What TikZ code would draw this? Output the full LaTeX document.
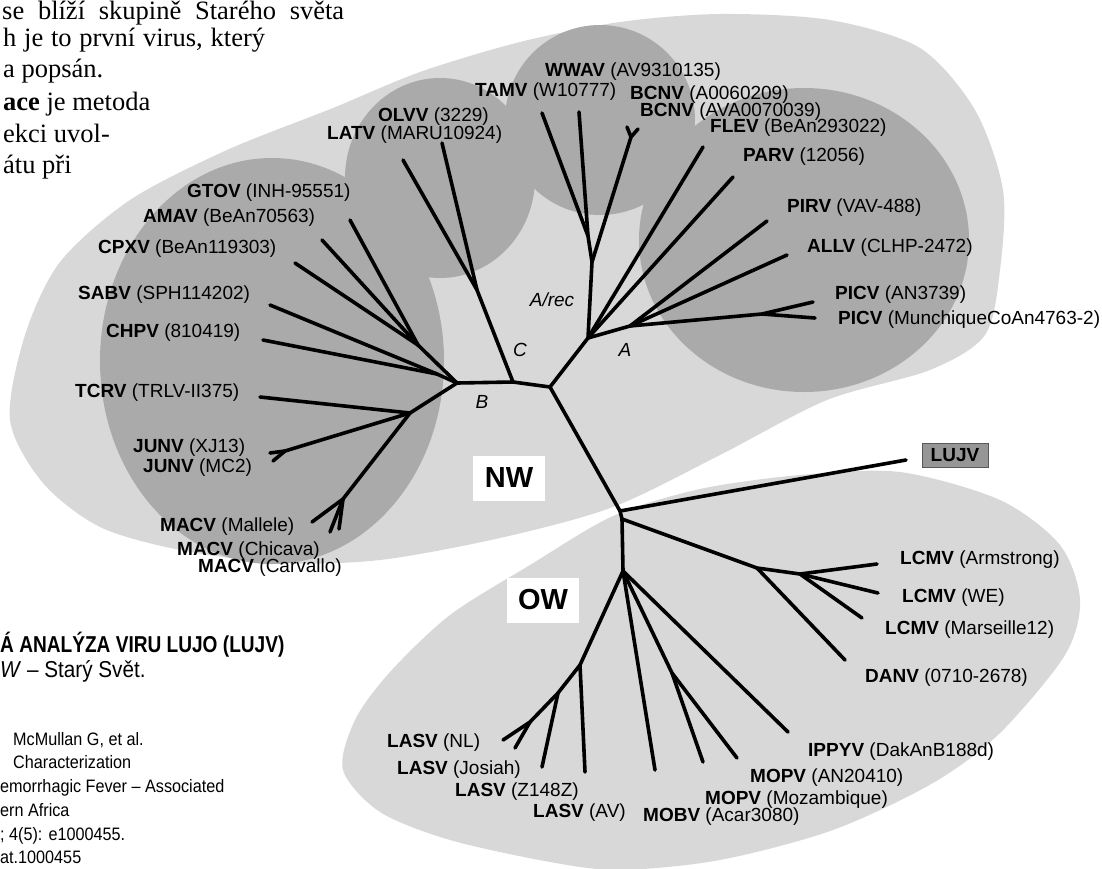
\documentclass[tikz,border=0pt]{standalone}
\usepackage{fontspec}
\setmainfont{Liberation Serif}
\setsansfont{Liberation Sans}
\newfontfamily\narrowsans[FakeStretch=0.9]{Liberation Sans}
\newfontfamily\condsans[FakeStretch=0.83]{Liberation Sans}
\definecolor{shadelight}{RGB}{216,216,216}
\definecolor{shadedark}{RGB}{170,170,170}
\definecolor{boxgray}{RGB}{150,150,150}
\tikzset{
  branch/.style={line width=3.6pt, line cap=round, line join=round},
  taxon/.style={anchor=west, inner sep=0pt, font=\sffamily\fontsize{19}{21}\selectfont},
  cladelabel/.style={inner sep=0pt, font=\sffamily\itshape\fontsize{19}{21}\selectfont},
  worldbox/.style={fill=white, minimum width=72pt, minimum height=45pt, inner sep=0pt, font=\sffamily\bfseries\fontsize{29}{31}\selectfont},
  prose/.style={anchor=base west, inner sep=0pt, font=\fontsize{26.5}{32}\selectfont},
  captionline/.style={anchor=base west, inner sep=0pt, font=\narrowsans\fontsize{23}{26}\selectfont},
  refline/.style={anchor=base west, inner sep=0pt, font=\narrowsans\fontsize{18}{22}\selectfont},
}
\newcommand{\vir}[2]{\textbf{#1} #2}
\begin{document}
\begin{tikzpicture}[x=1pt,y=-1pt]
\useasboundingbox (0,0) rectangle (1102,868);
\clip (0,0) rectangle (1102,868);
\fill[shadelight] plot[smooth cycle] coordinates {(10,420) (25,335) (60,262) (130,200) (227,150) (333,108) (420,72) (520,42) (620,22) (720,14) (830,20) (920,48) (975,110) (1003,190) (1000,270) (985,335) (930,370) (827,400) (720,455) (613,507) (500,538) (380,560) (280,563) (180,550) (100,527) (43,483)};
\fill[shadelight] plot[smooth cycle] coordinates {(343,770) (355,720) (390,672) (450,615) (530,565) (613,516) (700,489) (800,475) (900,472) (1000,500) (1060,545) (1080,600) (1065,655) (1000,733) (933,783) (833,830) (720,860) (620,870) (550,862) (450,840) (380,812)};
\fill[shadedark] (272,361) ellipse [x radius=172pt, y radius=203pt];
\fill[shadedark] (440,178) ellipse [x radius=95pt, y radius=100pt];
\fill[shadedark] (600,120) circle [radius=95pt];
\fill[shadedark] (804,240) ellipse [x radius=165pt, y radius=152pt];

\node[prose] (p1) at (2,19) {\makebox[342pt][s]{se blíží skupině Starého světa}};
\node[prose] (p2) at (3,46) {\makebox[262pt][s]{h je to první virus, který}};
\node[prose] (p3) at (3,77) {a popsán.};
\node[prose] (p4) at (3,110) {\textbf{ace} je metoda};
\node[prose] (p5) at (3,142) {ekci uvol-};
\node[prose] (p6) at (3,173) {átu při};
\node[captionline] (cap1) at (0,652) {\condsans\bfseries Á ANALÝZA VIRU LUJO (LUJV)};
\node[captionline] (cap2) at (0,677) {\textit{W} – Starý Svět.};
\node[refline] (r1) at (13,745) {McMullan G, et al.};
\node[refline] (r2) at (13,768) {Characterization};
\node[refline] (r3) at (0,792) {emorrhagic Fever – Associated};
\node[refline] (r4) at (0,816) {ern Africa};
\node[refline] (r5) at (0,840) {; 4(5): e1000455.};
\node[refline] (r6) at (0,863) {at.1000455};

\coordinate (root) at (620,511);
\coordinate (ow1) at (622,519);
\coordinate (ow) at (623,571);
\coordinate (nw) at (550,387);
\coordinate (na) at (588,338);
\coordinate (nc) at (513,382);
\coordinate (nb) at (457,383);
\coordinate (lujvtip) at (906,460);
\coordinate (lcmv1) at (757,568);
\coordinate (lcmv2) at (800,574);
\coordinate (armtip) at (877,564);
\coordinate (wetip) at (878,593);
\coordinate (marstip) at (862,618);
\coordinate (danvtip) at (845,660);
\coordinate (las1) at (580,665);
\coordinate (las2) at (558,693);
\coordinate (las3) at (530,722);
\coordinate (avtip) at (585,772);
\coordinate (ztip) at (542,767);
\coordinate (nltip) at (503,740);
\coordinate (jostip) at (515,748);
\coordinate (mobvtip) at (655,770);
\coordinate (mopv) at (672,673);
\coordinate (mopvatip) at (737,758);
\coordinate (mopvmtip) at (703,762);
\coordinate (ippytip) at (788,732);
\coordinate (arec) at (592,262);
\coordinate (tw) at (588,236);
\coordinate (tamvtip) at (542,113);
\coordinate (wwavtip) at (579,112);
\coordinate (bcnv) at (631,137);
\coordinate (bcnvtip1) at (627,127);
\coordinate (bcnvtip2) at (638,129);
\coordinate (flevtip) at (703,147);
\coordinate (parvtip) at (733,177);
\coordinate (na2) at (630,326);
\coordinate (pirvtip) at (767,221);
\coordinate (allvtip) at (787,255);
\coordinate (picv) at (762,314);
\coordinate (picvtip1) at (813,302);
\coordinate (picvtip2) at (815,318);
\coordinate (c1) at (477,290);
\coordinate (latvtip) at (403,160);
\coordinate (olvvtip) at (442,143);
\coordinate (b1) at (418,345);
\coordinate (b2) at (437,374);
\coordinate (b3) at (410,413);
\coordinate (gtovtip) at (350,220);
\coordinate (amavtip) at (322,240);
\coordinate (cpxvtip) at (295,263);
\coordinate (sabvtip) at (270,305);
\coordinate (chpvtip) at (263,340);
\coordinate (tcrvtip) at (260,397);
\coordinate (junv) at (285,451);
\coordinate (junvtip1) at (270,453);
\coordinate (junvtip2) at (273,461);
\coordinate (macv) at (343,499);
\coordinate (maltip) at (312,522);
\coordinate (chitip) at (330,532);
\coordinate (cartip) at (339,529);

\draw[branch] (nb) -- (nc) -- (nw) -- (root) -- (ow1) -- (ow);
\draw[branch] (root) -- (lujvtip);
\draw[branch] (ow1) -- (lcmv1) -- (lcmv2) -- (armtip);
\draw[branch] (lcmv2) -- (wetip);
\draw[branch] (lcmv2) -- (marstip);
\draw[branch] (lcmv1) -- (danvtip);
\draw[branch] (ow) -- (las1) -- (las2) -- (las3) -- (nltip);
\draw[branch] (las3) -- (jostip);
\draw[branch] (las2) -- (ztip);
\draw[branch] (las1) -- (avtip);
\draw[branch] (ow) -- (mobvtip);
\draw[branch] (ow) -- (mopv) -- (mopvatip);
\draw[branch] (mopv) -- (mopvmtip);
\draw[branch] (ow) -- (ippytip);
\draw[branch] (nw) -- (na) -- (arec) -- (tw) -- (tamvtip);
\draw[branch] (tw) -- (wwavtip);
\draw[branch] (arec) -- (bcnv) -- (bcnvtip1);
\draw[branch] (bcnv) -- (bcnvtip2);
\draw[branch] (na) -- (flevtip);
\draw[branch] (na) -- (parvtip);
\draw[branch] (na) -- (na2) -- (pirvtip);
\draw[branch] (na2) -- (allvtip);
\draw[branch] (na2) -- (picv) -- (picvtip1);
\draw[branch] (picv) -- (picvtip2);
\draw[branch] (nc) -- (c1) -- (latvtip);
\draw[branch] (c1) -- (olvvtip);
\draw[branch] (nb) -- (b1) -- (gtovtip);
\draw[branch] (b1) -- (amavtip);
\draw[branch] (b1) -- (cpxvtip);
\draw[branch] (nb) -- (b2) -- (sabvtip);
\draw[branch] (b2) -- (chpvtip);
\draw[branch] (nb) -- (b3) -- (tcrvtip);
\draw[branch] (b3) -- (junv) -- (junvtip1);
\draw[branch] (junv) -- (junvtip2);
\draw[branch] (b3) -- (macv) -- (maltip);
\draw[branch] (macv) -- (chitip);
\draw[branch] (macv) -- (cartip);

\node[cladelabel] (arecl) at (552,300) {A/rec};
\node[cladelabel] (cl) at (520,350) {C};
\node[cladelabel] (al) at (625,350) {A};
\node[cladelabel] (bl) at (482,402) {B};
\node[worldbox] (nwbox) at (509,478) {NW};
\node[worldbox] (owbox) at (543,600) {OW};
\node[taxon, anchor=center, fill=boxgray, draw=gray!70!black, line width=0.6pt, minimum width=66pt, minimum height=24pt] (lujv) at (955,455) {\textbf{LUJV}};

\node[taxon] (gtov) at (187,193) {\vir{GTOV}{(INH-95551)}};
\node[taxon] (amav) at (143,218) {\vir{AMAV}{(BeAn70563)}};
\node[taxon] (cpxv) at (98,249) {\vir{CPXV}{(BeAn119303)}};
\node[taxon] (sabv) at (78,295) {\vir{SABV}{(SPH114202)}};
\node[taxon] (chpv) at (106,333) {\vir{CHPV}{(810419)}};
\node[taxon] (tcrv) at (75,393) {\vir{TCRV}{(TRLV-II375)}};
\node[taxon] (junv1) at (133,448) {\vir{JUNV}{(XJ13)}};
\node[taxon] (junv2) at (143,468) {\vir{JUNV}{(MC2)}};
\node[taxon] (macv1) at (160,527) {\vir{MACV}{(Mallele)}};
\node[taxon] (macv2) at (177,551) {\vir{MACV}{(Chicava)}};
\node[taxon] (macv3) at (198,568) {\vir{MACV}{(Carvallo)}};
\node[taxon] (latv) at (327,135) {\vir{LATV}{(MARU10924)}};
\node[taxon] (olvv) at (378,117) {\vir{OLVV}{(3229)}};
\node[taxon] (wwav) at (545,72) {\vir{WWAV}{(AV9310135)}};
\node[taxon] (tamv) at (475,92) {\vir{TAMV}{(W10777)}};
\node[taxon] (bcnv1) at (630,95) {\vir{BCNV}{(A0060209)}};
\node[taxon] (bcnv2) at (640,112) {\vir{BCNV}{(AVA0070039)}};
\node[taxon] (flev) at (710,128) {\vir{FLEV}{(BeAn293022)}};
\node[taxon] (parv) at (743,157) {\vir{PARV}{(12056)}};
\node[taxon] (pirv) at (787,208) {\vir{PIRV}{(VAV-488)}};
\node[taxon] (allv) at (807,248) {\vir{ALLV}{(CLHP-2472)}};
\node[taxon] (picv1) at (835,295) {\vir{PICV}{(AN3739)}};
\node[taxon] (picv2) at (838,320) {\vir{PICV}{(MunchiqueCoAn4763-2)}};
\node[taxon] (lcmv1l) at (900,560) {\vir{LCMV}{(Armstrong)}};
\node[taxon] (lcmv2l) at (902,598) {\vir{LCMV}{(WE)}};
\node[taxon] (lcmv3l) at (885,630) {\vir{LCMV}{(Marseille12)}};
\node[taxon] (danv) at (865,678) {\vir{DANV}{(0710-2678)}};
\node[taxon] (ippyv) at (808,752) {\vir{IPPYV}{(DakAnB188d)}};
\node[taxon] (mopv1) at (750,778) {\vir{MOPV}{(AN20410)}};
\node[taxon] (mopv2) at (705,800) {\vir{MOPV}{(Mozambique)}};
\node[taxon] (mobv) at (643,817) {\vir{MOBV}{(Acar3080)}};
\node[taxon] (lasv1) at (387,743) {\vir{LASV}{(NL)}};
\node[taxon] (lasv2) at (397,770) {\vir{LASV}{(Josiah)}};
\node[taxon] (lasv3) at (455,792) {\vir{LASV}{(Z148Z)}};
\node[taxon] (lasv4) at (533,813) {\vir{LASV}{(AV)}};
\end{tikzpicture}
\end{document}
